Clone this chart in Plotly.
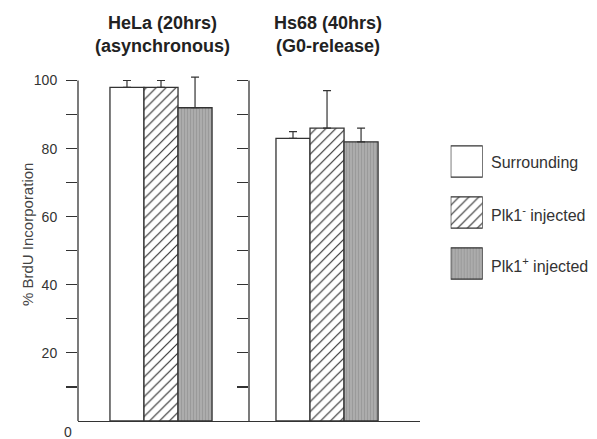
import plotly.graph_objects as go

# ---- data ----
cell_lines = ["HeLa", "Hs68"]
panel_titles = ["<b>HeLa (20hrs)</b><br><b>(asynchronous)</b>",
                "<b>Hs68 (40hrs)</b><br><b>(G0-release)</b>"]
series_names = ["Surrounding", "Plk1<sup>-</sup> injected", "Plk1<sup>+</sup> injected"]
surrounding = [98, 83]
surrounding_err = [2, 2]
plk1_minus = [98, 86]
plk1_minus_err = [2, 11]
plk1_plus = [92, 82]
plk1_plus_err = [9, 4]
tick_values = [10, 20, 30, 40, 50, 60, 70, 80, 90, 100]
tick_labels = ["", "20", "", "40", "", "60", "", "80", "", "100"]

values = [surrounding, plk1_minus, plk1_plus]
errors = [surrounding_err, plk1_minus_err, plk1_plus_err]

# ---- styles ----
W, H = 597, 439
INK = "#333333"
FONT = "Liberation Sans, Arial, sans-serif"
fills = ["#ffffff", "#ffffff", "#acacac"]
pat_shapes = ["", "/", "|"]
pat_fg = ["#333333", "#333333", "#979797"]
pat_size = [8, 7, 3]
pat_sol = [0.2, 0.17, 0.3]


def px(x):
    return x / W


def py(y):
    return 1 - y / H


def marker_style(i):
    return dict(color=fills[i], line=dict(color=INK, width=1.3),
                pattern=dict(shape=pat_shapes[i], fgcolor=pat_fg[i],
                             size=pat_size[i], solidity=pat_sol[i],
                             fillmode="overlay", fgopacity=1))


fig = go.Figure()

axes = [("x", "y"), ("x2", "y2")]
for p, (xa, ya) in enumerate(axes):
    for i in range(3):
        fig.add_trace(go.Bar(
            x=[cell_lines[p]], y=[values[i][p]],
            xaxis=xa, yaxis=ya, name=series_names[i], showlegend=False,
            marker=marker_style(i),
            error_y=dict(type="data", symmetric=False, array=[errors[i][p]],
                         arrayminus=[0], color=INK, thickness=1.2, width=4),
            hoverinfo="skip",
        ))

# legend swatches drawn as bars on their own small axis pair
for i in range(3):
    fig.add_trace(go.Bar(
        y=[series_names[i]], x=[1], orientation="h", xaxis="x3", yaxis="y3",
        width=0.615, offset=-0.3075, showlegend=False, hoverinfo="skip",
        marker=marker_style(i),
    ))
    fig.add_annotation(text=series_names[i], x=px(489), xref="paper",
                       y=series_names[i], yref="y3", xanchor="left",
                       yanchor="middle", showarrow=False, yshift=-1,
                       font=dict(size=16, color=INK, family=FONT))

y_domain = [py(421), py(421 - 104 * 3.405)]
yax = dict(range=[0, 104], domain=y_domain, showgrid=False, zeroline=False,
           showline=False, ticks="outside", ticklen=11, tickwidth=1.2,
           tickcolor=INK, tickvals=tick_values, automargin=False)
xax = dict(showgrid=False, zeroline=False, showline=True, linecolor=INK,
           linewidth=1.3, ticks="", showticklabels=False, automargin=False,
           type="category")

fig.update_layout(
    width=W, height=H, template="none",
    margin=dict(l=0, r=0, t=0, b=0, pad=0),
    paper_bgcolor="white", plot_bgcolor="rgba(0,0,0,0)",
    font=dict(family=FONT, color=INK, size=14),
    barmode="group", bargap=0.385, bargroupgap=0,
    showlegend=False,
    xaxis=dict(xax, domain=[px(78), px(249)], range=[-0.5, 0.53], anchor="y"),
    xaxis2=dict(xax, domain=[px(249), px(420)], range=[-0.47, 0.56], anchor="y2"),
    yaxis=dict(yax, anchor="x", ticktext=tick_labels, ticklabelstandoff=6,
               tickfont=dict(size=14, color=INK, family=FONT)),
    yaxis2=dict(yax, anchor="x2", showticklabels=False),
    xaxis3=dict(domain=[px(450.7), px(482.7)], range=[0, 1], visible=False,
                anchor="y3"),
    yaxis3=dict(domain=[py(289), py(136)], anchor="x3",
                autorange="reversed", visible=False, automargin=False),
)

# vertical axis lines stopping at the 100 tick
for xr, yr in [("x domain", "y"), ("x2 domain", "y2")]:
    fig.add_shape(type="line", xref=xr, yref=yr, x0=0, x1=0, y0=0, y1=100,
                  line=dict(color=INK, width=1.3))

# panel titles
for p, cx in enumerate([162, 328]):
    fig.add_annotation(text=panel_titles[p], x=px(cx), y=py(34), xref="paper",
                       yref="paper", showarrow=False, xanchor="center",
                       yanchor="middle", font=dict(size=18, color="#222222"))

fig.add_annotation(text="% BrdU Incorporation", textangle=-90, x=px(27),
                   y=py(235), xref="paper", yref="paper", showarrow=False,
                   xanchor="center", yanchor="middle",
                   font=dict(size=15, color="#444444"))
fig.add_annotation(text="0", x=px(68), y=py(432), xref="paper", yref="paper",
                   showarrow=False, xanchor="center", yanchor="middle",
                   font=dict(size=14, color=INK))

fig.write_html("out.html",
               config={"displayModeBar": False, "staticPlot": True},
               post_script="document.body.style.margin='0px';"
                           "document.body.style.padding='0px';")
